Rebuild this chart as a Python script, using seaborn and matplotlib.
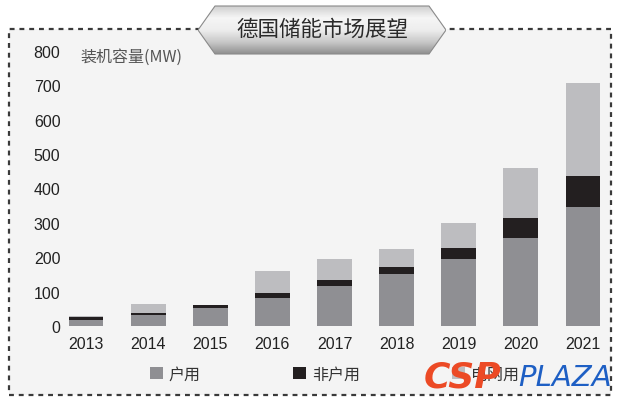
import numpy as np
import pandas as pd
import matplotlib
matplotlib.use('Agg')
import matplotlib.pyplot as plt
from matplotlib.patches import Rectangle, Polygon, Patch
import seaborn as sns

# values (MW)
years = ['2013', '2014', '2015', '2016', '2017', '2018', '2019', '2020', '2021']
residential = [17, 32, 52, 81, 116, 151, 194, 255, 345]      # 户用
non_residential = [9, 6, 9, 15, 17, 20, 32, 58, 90]         # 非户用
other = [3, 26, 0, 63, 61, 52, 73, 148, 272]                 # third series (label hidden by watermark)
series_labels = ['户用', '非户用', '电网用']
series_colors = ['#8f8f93', '#231f20', '#bdbdc0']
yticks = [0, 100, 200, 300, 400, 500, 600, 700, 800]

sns.set_theme(style='white')
plt.rcParams['font.family'] = ['Liberation Sans', 'Noto Sans CJK SC', 'DejaVu Sans']

W, H = 620, 406
fig = plt.figure(figsize=(W / 100, H / 100), dpi=100)
fig.patch.set_facecolor('white')


def fx(x):
    return x / W


def fy(y):
    return 1 - y / H


# dashed frame with light background
frame = Rectangle((fx(9), fy(396)), fx(611) - fx(9), fy(30) - fy(396),
                  transform=fig.transFigure, facecolor='#f4f4f4', edgecolor='#3a3a3a',
                  linewidth=1.6, linestyle=(0, (2.2, 2.2)), zorder=-5)
fig.patches.append(frame)

# main axes
left, right = 66, 608
ax = fig.add_axes([fx(left), fy(327), fx(right) - fx(left), fy(52) - fy(327)])
ax.set_facecolor('none')

df = pd.DataFrame({'year': years, 'res': residential, 'nonres': non_residential, 'other': other})
bottom = np.zeros(len(years))
for col, lab, colr in zip(['res', 'nonres', 'other'], series_labels, series_colors):
    sns.barplot(data=df, x='year', y=col, order=years, color=colr, width=0.56,
                bottom=bottom, ax=ax, saturation=1, linewidth=0)
    bottom = bottom + df[col].values

step = 62.125
ax.set_xlim((left - 86) / step, (right - 86) / step)
ax.set_ylim(0, 800)
ax.set_yticks(yticks)
ax.set_yticklabels([str(v) for v in yticks])
ax.set_xlabel('')
ax.set_ylabel('')
ax.tick_params(axis='both', length=0, labelsize=11.5, colors='#222222')
ax.tick_params(axis='x', pad=7)
ax.tick_params(axis='y', pad=4)
for s in ax.spines.values():
    s.set_visible(False)

fig.text(fx(80), fy(57), '装机容量(MW)', fontsize=11.5, color='#555555',
         family=['Noto Sans CJK SC'], va='center', ha='left')

# legend
handles = [Patch(facecolor=c, edgecolor='none') for c in series_colors]
fig.legend(handles, series_labels, ncol=3, loc='center left',
           bbox_to_anchor=(fx(136), fy(375)), frameon=False,
           handlelength=0.8, handleheight=0.7, handletextpad=0.35,
           columnspacing=5.8, labelcolor='#333333',
           prop={'family': ['Noto Sans CJK SC'], 'size': 11.5})

# title banner
bx0, bx1, by0, by1 = 198, 446, 6, 56
axb = fig.add_axes([fx(bx0), fy(by1), fx(bx1) - fx(bx0), fy(by0) - fy(by1)], zorder=5)
axb.axis('off')
axb.set_xlim(bx0, bx1)
axb.set_ylim(by1, by0)
grad = np.interp(np.linspace(0, 1, 60), [0, 0.25, 0.5, 0.75, 1.0],
                 [0.80, 0.96, 0.93, 0.78, 0.55]).reshape(-1, 1)
im = axb.imshow(grad, cmap='gray', vmin=0, vmax=1, extent=[bx0, bx1, by1, by0], aspect='auto')
poly = Polygon([(bx0, 31), (bx0 + 17, by0 + 1), (bx1 - 17, by0 + 1), (bx1, 31),
                (bx1 - 17, by1 - 1), (bx0 + 17, by1 - 1)], closed=True,
               facecolor='none', edgecolor='#8a8a8a', linewidth=0.8)
axb.add_patch(poly)
im.set_clip_path(poly)
axb.text((bx0 + bx1) / 2, 30, '德国储能市场展望', ha='center', va='center',
         fontsize=15.5, color='#2a2a2a', family=['Noto Sans CJK SC'])

# watermark
fig.text(fx(424), fy(378), 'CSP', fontsize=26, fontweight='bold', fontstyle='italic',
         color='#ec4a25', family=['DejaVu Sans'], va='center', ha='left', zorder=10)
fig.text(fx(518), fy(378), 'PLAZA', fontsize=21, fontstyle='italic', fontweight='light',
         color='#1e5fc4', family=['DejaVu Sans'], va='center', ha='left', zorder=10)

fig.savefig('out.png', dpi=100)
